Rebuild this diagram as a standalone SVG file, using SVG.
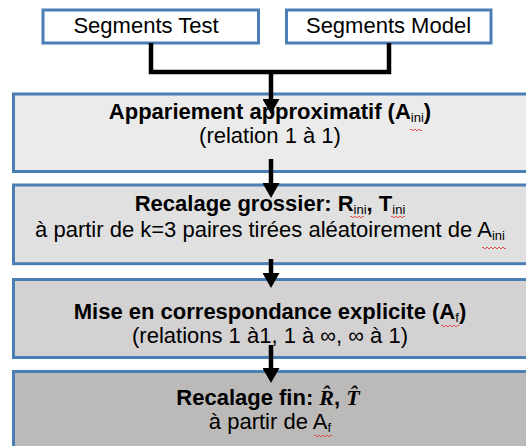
<svg xmlns="http://www.w3.org/2000/svg" width="526" height="446" viewBox="0 0 526 446">
<defs>
<style>
.box{stroke:#4a7eb5;stroke-width:3}
.t{font-family:"Liberation Sans",Arial,sans-serif;font-size:22px;fill:#000;text-anchor:middle}
.b{font-weight:bold}
.sub{font-size:13px;font-weight:normal}
.m{font-family:"Liberation Serif","DejaVu Serif",serif;font-style:italic;font-weight:bold}
.conn{stroke:#000;stroke-width:4.5;fill:none}
.spell{stroke:#e05050;stroke-width:1;fill:none}
</style>
<marker id="ah" markerUnits="userSpaceOnUse" markerWidth="16" markerHeight="17" viewBox="0 0 15 17" refX="0" refY="8.5" orient="auto">
<path d="M0,0 L15,8.5 L0,17 z" fill="#000"/>
</marker>
</defs>
<rect width="526" height="446" fill="#fff"/>
<g id="segments-test">
<rect class="box" x="43" y="10" width="215.5" height="33" fill="#fff"/>
<text class="t" x="146" y="33">Segments Test</text>
</g>
<g id="segments-model">
<rect class="box" x="286.5" y="10" width="204.5" height="33" fill="#fff"/>
<text class="t" x="388.5" y="33">Segments Model</text>
</g>
<g id="appariement">
<rect class="box" x="13.5" y="94" width="520" height="77.5" fill="#ebebeb"/>
<text class="t b" x="270" y="119">Appariement approximatif (A<tspan class="sub" dy="3">ini</tspan><tspan dy="-3">)</tspan></text>
<text class="t" x="270" y="143">(relation 1 à 1)</text>
<path class="spell" d="M410,130 q1,-2 2,0 t2,0 t2,0 t2,0 t2,0 t2,0"/>
</g>
<g id="recalage-grossier">
<rect class="box" x="13.5" y="185" width="520" height="78.7" fill="#e1e0e0"/>
<text class="t" x="270" y="211"><tspan class="b">Recalage grossier: R</tspan><tspan class="sub" dy="3">ini</tspan><tspan class="b" dy="-3">, T</tspan><tspan class="sub" dy="3">ini</tspan></text>
<text class="t" x="270" y="237">à partir de k=3 paires tirées aléatoirement de A<tspan class="sub" dy="3">ini</tspan></text>
<path class="spell" d="M350,217 q1,-2 2,0 t2,0 t2,0 t2,0 t2,0 t2,0 t2,0"/>
<path class="spell" d="M391,217 q1,-2 2,0 t2,0 t2,0 t2,0 t2,0 t2,0 t2,0"/>
<path class="spell" d="M482,248 q1,-2 2,0 t2,0 t2,0 t2,0 t2,0 t2,0 t2,0 t2,0 t2,0 t2,0 t2,0 t2,0"/>
</g>
<g id="mise-en-correspondance">
<rect class="box" x="13.5" y="279.5" width="520" height="78" fill="#d3d1d2"/>
<text class="t b" x="270" y="319">Mise en correspondance explicite (A<tspan class="sub" dy="3">f</tspan><tspan dy="-3">)</tspan></text>
<text class="t" x="270" y="343">(relations 1 à1, 1 à ∞, ∞ à 1)</text>
<path class="spell" d="M441,326 q1,-2 2,0 t2,0 t2,0 t2,0 t2,0 t2,0 t2,0 t2,0 t2,0"/>
</g>
<g id="recalage-fin">
<rect class="box" x="13.5" y="371.5" width="520" height="82" fill="#bcb9b9"/>
<text class="t" x="268" y="405"><tspan class="b">Recalage fin: </tspan><tspan class="m">R̂</tspan><tspan class="b">, </tspan><tspan class="m">T̂</tspan></text>
<text class="t" x="270" y="429">à partir de A<tspan class="sub" dy="3">f</tspan></text>
<path class="spell" d="M314,436 q1,-2 2,0 t2,0 t2,0 t2,0 t2,0 t2,0 t2,0 t2,0 t2,0"/>
</g>
<g id="connectors">
<polyline class="conn" points="151,43 151,72 389,72 389,43"/>
<line class="conn" x1="271" y1="72" x2="271" y2="99" marker-end="url(#ah)"/>
<line class="conn" x1="271" y1="159" x2="271" y2="183" marker-end="url(#ah)"/>
<line class="conn" x1="271" y1="259" x2="271" y2="273" marker-end="url(#ah)"/>
<line class="conn" x1="271" y1="345" x2="271" y2="368" marker-end="url(#ah)"/>
</g>
</svg>
